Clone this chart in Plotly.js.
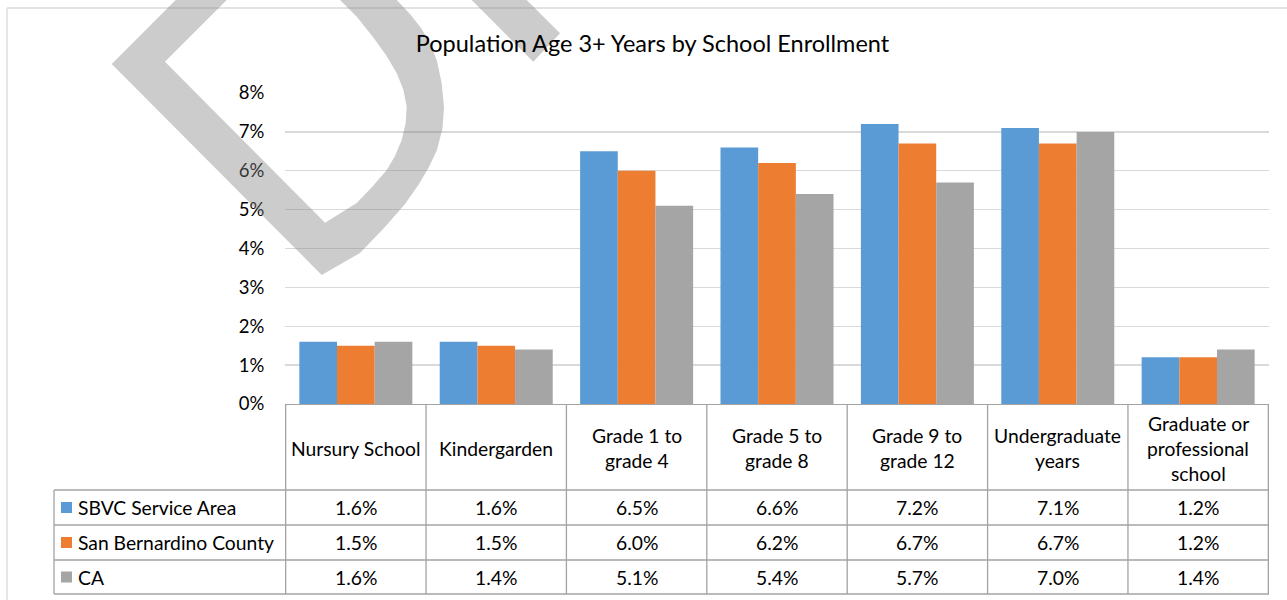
<!DOCTYPE html>
<html>
<head>
<meta charset="utf-8">
<script src="https://cdn.plot.ly/plotly-3.0.1.min.js"></script>
<style>
  html, body { margin: 0; padding: 0; background: #fff; }
  #chart { width: 1287px; height: 600px; }
</style>
</head>
<body>
<div id="chart"></div>
<script>
// ---------- data ----------
const categories = [
  "Nursury School",
  "Kindergarden",
  "Grade 1 to<br>grade 4",
  "Grade 5 to<br>grade 8",
  "Grade 9 to<br>grade 12",
  "Undergraduate<br>years",
  "Graduate or<br>professional<br>school"
];
const seriesNames = ["SBVC Service Area", "San Bernardino County", "CA"];
const sbvcValues = [1.6, 1.6, 6.5, 6.6, 7.2, 7.1, 1.2];
const sbcValues  = [1.5, 1.5, 6.0, 6.2, 6.7, 6.7, 1.2];
const caValues   = [1.6, 1.4, 5.1, 5.4, 5.7, 7.0, 1.4];
const yTickValues = [0, 1, 2, 3, 4, 5, 6, 7, 8];
const yTickLabels = ["0%", "1%", "2%", "3%", "4%", "5%", "6%", "7%", "8%"];

const seriesValues = [sbvcValues, sbcValues, caValues];
const colors = ["#5b9bd5", "#ed7d31", "#a5a5a5"];

// ---------- layout geometry (pixels) ----------
const FIG_W = 1287, FIG_H = 600;
const L = 285, R = 18, T = 93, B = 196;
const PW = FIG_W - L - R;
const PH = FIG_H - T - B;
const BOTTOM = FIG_H - B;
const px = x => (x - L) / PW;
const py = y => (BOTTOM - y) / PH;

const FONT = "Lato, 'Open Sans', sans-serif";
const TXT = "#000000";
const LINE = "#a3a3a3";

const headerTop = BOTTOM, headerBottom = 490;
const rowEdges = [490, 525, 560, 594];
const tableLeft = 54;

const catKeys = categories.map(c => c.replace(/<br>/g, " "));

// ---------- traces ----------
const traces = seriesNames.map((name, i) => ({
  type: "bar",
  name: name,
  x: catKeys,
  y: seriesValues[i],
  marker: { color: colors[i], line: { width: 0 } },
  hoverinfo: "skip"
}));

// ---------- shapes ----------
const shapes = [];
const tableLine = { color: LINE, width: 1.3 };

for (let k = 0; k <= catKeys.length; k++) {
  shapes.push({
    type: "line", xref: "x", yref: "paper",
    x0: k - 0.5, x1: k - 0.5,
    y0: py(headerTop), y1: py(rowEdges[rowEdges.length - 1]),
    line: tableLine, layer: "above"
  });
}
shapes.push({
  type: "line", xref: "paper", yref: "paper",
  x0: px(tableLeft), x1: px(tableLeft),
  y0: py(rowEdges[0]), y1: py(rowEdges[rowEdges.length - 1]),
  line: tableLine
});
rowEdges.forEach(yy => {
  shapes.push({
    type: "line", xref: "paper", yref: "paper",
    x0: px(tableLeft), x1: 1,
    y0: py(yy), y1: py(yy),
    line: tableLine
  });
});
seriesNames.forEach((n, i) => {
  const cy = (rowEdges[i] + rowEdges[i + 1]) / 2;
  shapes.push({
    type: "rect", xref: "paper", yref: "paper",
    x0: px(61), x1: px(72), y0: py(cy + 5.5), y1: py(cy - 5.5),
    fillcolor: colors[i], line: { width: 0 }
  });
});
shapes.push({ type: "line", xref: "paper", yref: "paper",
  x0: px(7), x1: px(1287), y0: py(8), y1: py(8), line: { color: "#d9d9d9", width: 1.3 } });
shapes.push({ type: "line", xref: "paper", yref: "paper",
  x0: px(7), x1: px(7), y0: py(8), y1: py(600), line: { color: "#d9d9d9", width: 1.3 } });

// watermark (decorative letters, pixel outline -> paper)
function pathFrom(pts) {
  return pts.map((p, i) => (i ? "L" : "M") + px(p[0]).toFixed(4) + "," + py(p[1]).toFixed(4)).join(" ") + " Z";
}
const dOuter = [[111.7, 64], [175.7, 0], [215, -40], [400, -40], [396.7, 0], [410, 14], [421, 28], [430, 43],
  [437, 61], [441.7, 83], [444, 107], [442.5, 128], [437, 150], [429, 167], [419, 184], [405, 204],
  [385, 227], [360, 253], [321.7, 275]];
const dInner = [[165, 61.7], [226.7, 0], [250, -20], [330, -20], [340, 0], [357, 17], [373, 37],
  [386, 55], [396.7, 73], [403.5, 90], [406.7, 107], [405.5, 124], [401.7, 140], [395, 156], [386.7, 170],
  [373, 186], [356.7, 203], [325, 222.7]];
const stroke2 = [[471.7, 0], [533.3, 61.7], [560, 33.3], [526.7, 0], [506.7, -20], [451.7, -20]];
shapes.push({
  type: "path", xref: "paper", yref: "paper", layer: "above",
  path: pathFrom(dOuter) + " " + pathFrom(dInner),
  fillcolor: "rgba(128,128,128,0.4)", line: { width: 0 }
});
shapes.push({
  type: "path", xref: "paper", yref: "paper", layer: "above",
  path: pathFrom(stroke2),
  fillcolor: "rgba(128,128,128,0.4)", line: { width: 0 }
});

// ---------- annotations ----------
const annotations = [];
const cellFont = { family: FONT, size: 19.3, color: TXT };
const headerCenter = (headerTop + headerBottom) / 2 + 1;
const lineGap = 25;
categories.forEach((c, ci) => {
  const lines = c.split("<br>");
  lines.forEach((ln, li) => {
    const cy = headerCenter + (li - (lines.length - 1) / 2) * lineGap;
    annotations.push({
      xref: "x", yref: "paper", x: catKeys[ci], y: py(cy),
      text: ln, showarrow: false, xanchor: "center", yanchor: "middle",
      font: cellFont
    });
  });
});
seriesValues.forEach((vals, si) => {
  const cy = (rowEdges[si] + rowEdges[si + 1]) / 2;
  annotations.push({
    xref: "paper", yref: "paper", x: px(76), y: py(cy),
    text: seriesNames[si], showarrow: false, xanchor: "left", yanchor: "middle",
    font: cellFont
  });
  vals.forEach((v, ci) => {
    annotations.push({
      xref: "x", yref: "paper", x: catKeys[ci], y: py(cy),
      text: v.toFixed(1) + "%", showarrow: false, xanchor: "center", yanchor: "middle",
      font: cellFont
    });
  });
});

// ---------- layout ----------
const layout = {
  width: FIG_W, height: FIG_H,
  margin: { l: L, r: R, t: T, b: B, pad: 0 },
  paper_bgcolor: "#ffffff", plot_bgcolor: "#ffffff",
  font: { family: FONT, color: TXT },
  showlegend: false,
  barmode: "group",
  bargap: 0.195,
  bargroupgap: 0,
  title: {
    text: "Population Age 3+ Years by School Enrollment",
    font: { family: FONT, size: 23.5, color: TXT },
    xref: "container", yref: "container",
    x: 0.507, xanchor: "center",
    y: 1 - 44 / FIG_H, yanchor: "middle"
  },
  xaxis: {
    type: "category",
    categoryorder: "array", categoryarray: catKeys,
    showticklabels: false, ticks: "",
    showgrid: false, zeroline: false,
    showline: true, linecolor: LINE, linewidth: 1.3,
    fixedrange: true
  },
  yaxis: {
    range: [0, 8],
    tickvals: yTickValues, ticktext: yTickLabels,
    showgrid: true, gridcolor: "#d9d9d9", gridwidth: 1.3,
    zeroline: false, showline: false,
    ticks: "outside", ticklen: 16, tickcolor: "rgba(0,0,0,0)",
    tickfont: { family: FONT, size: 18.5, color: TXT },
    fixedrange: true
  },
  shapes: shapes,
  annotations: annotations
};

Plotly.newPlot("chart", traces, layout, { displayModeBar: false, staticPlot: true });
</script>
</body>
</html>
